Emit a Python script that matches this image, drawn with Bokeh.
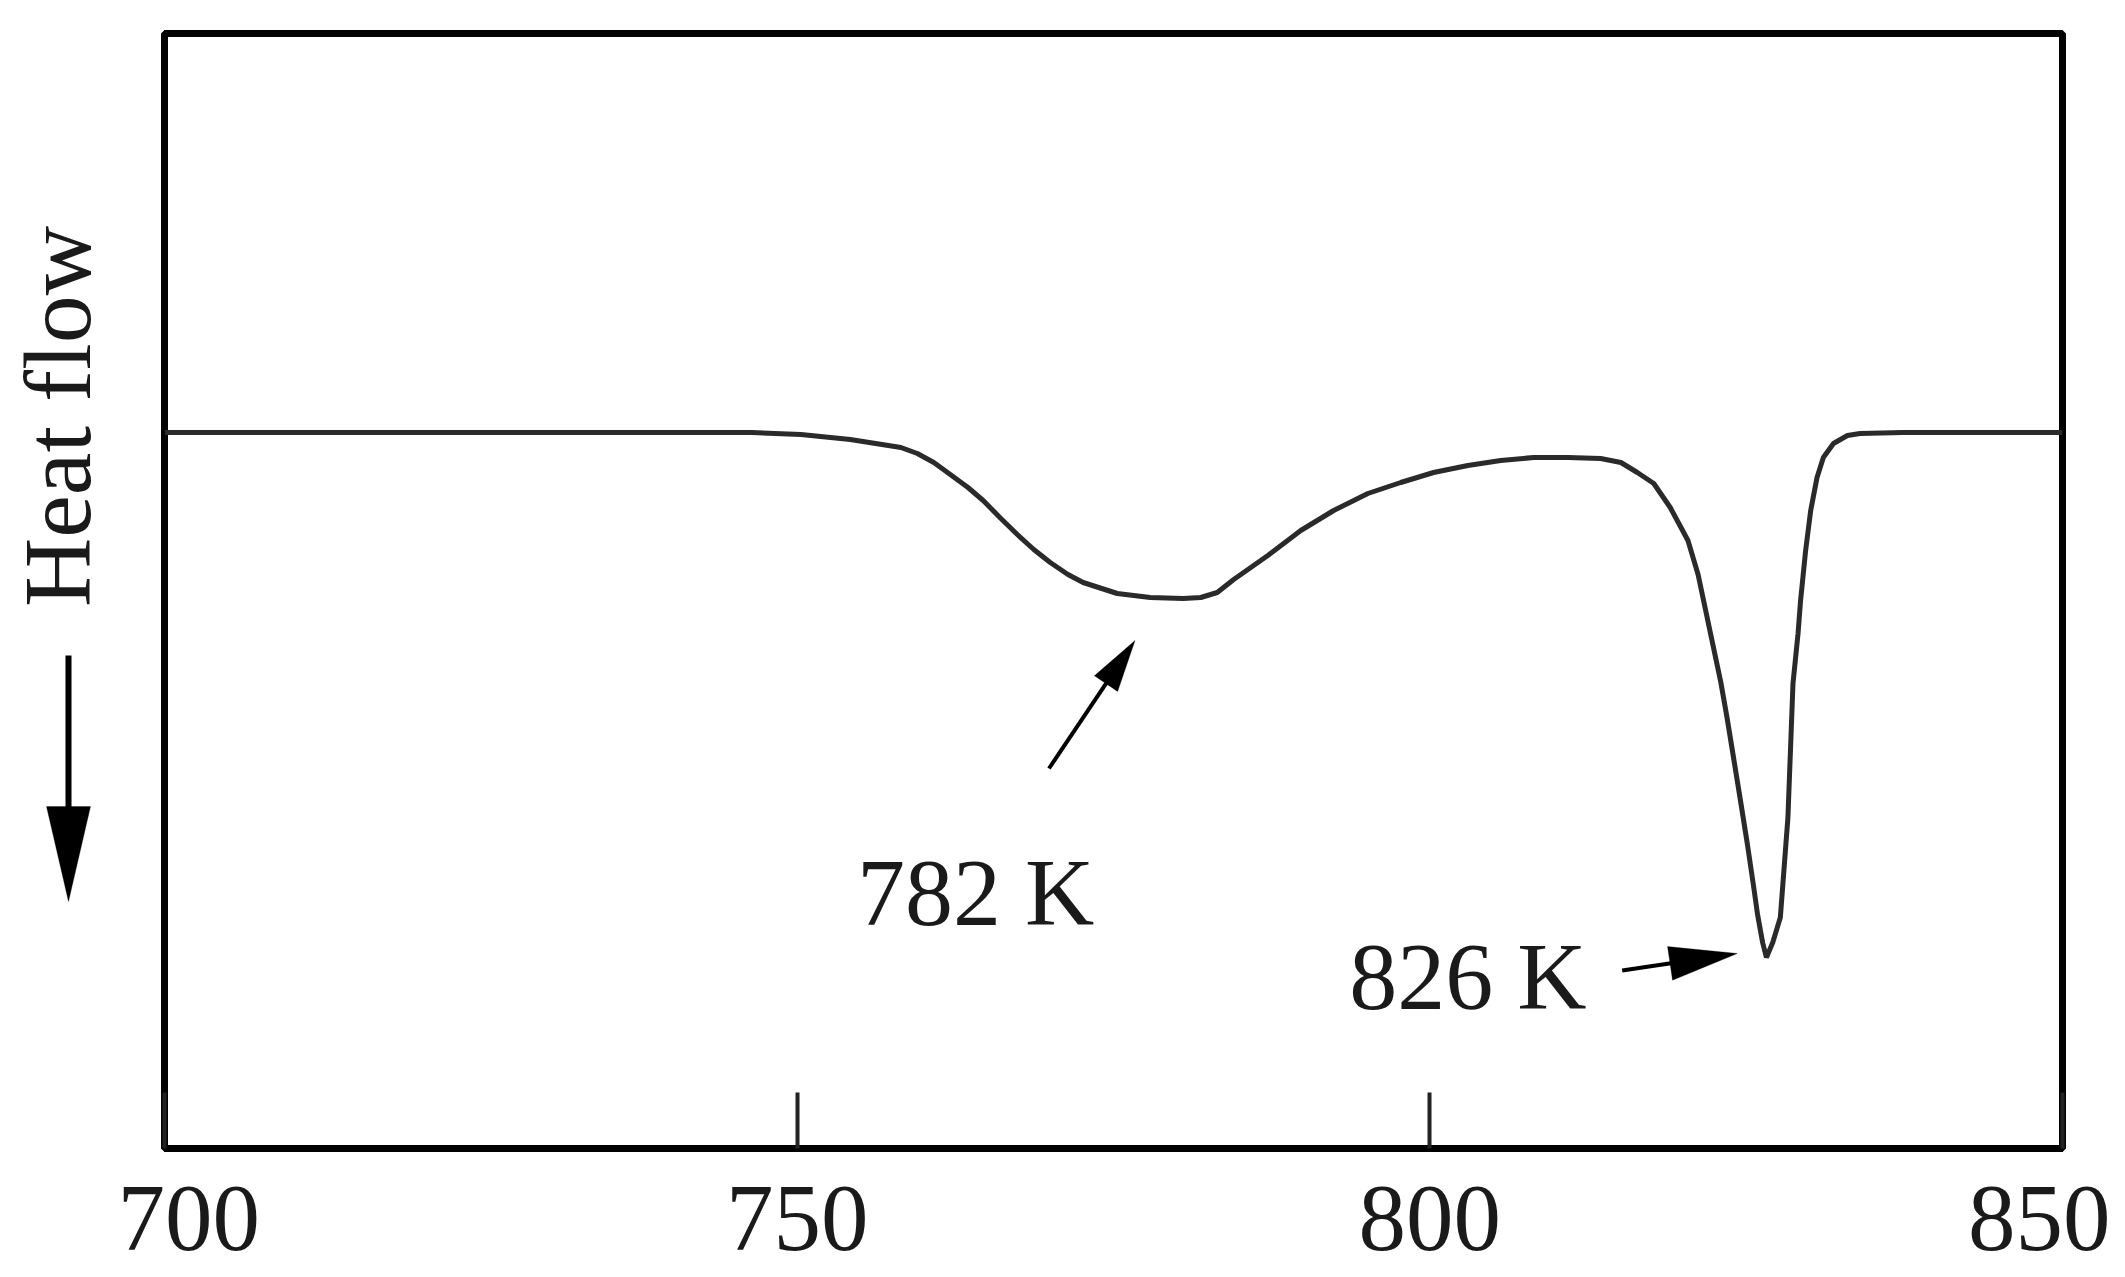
from bokeh.plotting import figure
from bokeh.layouts import row
from bokeh.models import Range1d, FixedTicker, Label, Arrow, PolyAnnotation
from bokeh.embed import file_html
from bokeh.resources import INLINE
import math

# ---- data ----
temperature = [700, 746.4, 750.3, 754.2, 758.2, 759.5, 760.8, 762.1, 763.5, 764.7,
               766.1, 767.4, 768.7, 770.0, 771.4, 772.6, 775.3, 777.9, 780.5, 781.9,
               783.2, 784.5, 787.2, 789.8, 792.4, 795.1, 797.7, 800.3, 803.0, 805.6,
               808.2, 810.9, 813.5, 815.1, 816.4, 817.7, 819.0, 820.4, 821.2, 821.6,
               822.2, 823.0, 823.5, 824.0, 824.6, 825.1, 825.6, 825.9, 826.3, 826.6,
               827.1, 827.7, 828.3, 828.5, 828.7, 829.1, 829.3, 829.7, 830.1, 830.6,
               831.1, 831.9, 833.0, 834.0, 837.4, 850]
heat_flow = [0, 0, -0.02, -0.07, -0.15, -0.21, -0.30, -0.42, -0.55, -0.68,
             -0.86, -1.02, -1.17, -1.30, -1.42, -1.50, -1.61, -1.65, -1.66, -1.65,
             -1.60, -1.47, -1.23, -0.98, -0.78, -0.61, -0.50, -0.40, -0.33, -0.28,
             -0.25, -0.25, -0.26, -0.30, -0.40, -0.51, -0.75, -1.08, -1.42, -1.66,
             -2.02, -2.50, -2.86, -3.25, -3.72, -4.12, -4.55, -4.82, -5.10, -5.25,
             -5.10, -4.85, -3.85, -3.18, -2.51, -2.01, -1.68, -1.18, -0.78, -0.45,
             -0.25, -0.11, -0.03, -0.01, 0, 0]
x_ticks = [700, 750, 800, 850]
peak_labels = ["782 K", "826 K"]
y_label = "Heat flow"

FONT = "Liberation Serif"
INK = "#1a1a1a"
TOTAL_W, TOTAL_H = 2110, 1277
SIDE_W = 117
FRAME_L, FRAME_R, FRAME_T, FRAME_B = 164, 2062, 33, 1148
X0, X1, Y0, Y1 = 700, 850, -7.16, 3.99


def head_poly(x0, y0, x1, y1, length, width, sx, sy):
    """Triangle arrow head (in data units) with given pixel length/width."""
    dx, dy = (x1 - x0) * sx, (y1 - y0) * sy
    d = math.hypot(dx, dy)
    ux, uy = dx / d, dy / d
    tx, ty = x1 * sx, y1 * sy
    bx, by = tx - ux * length, ty - uy * length
    nx, ny = -uy * width / 2, ux * width / 2
    xs = [tx / sx, (bx + nx) / sx, (bx - nx) / sx]
    ys = [ty / sy, (by + ny) / sy, (by - ny) / sy]
    base = (bx / sx + ux * 6 / sx, by / sy + uy * 6 / sy)
    return xs, ys, base


def add_arrow(fig, x0, y0, x1, y1, length, width, sx, sy, lw):
    xs, ys, base = head_poly(x0, y0, x1, y1, length, width, sx, sy)
    fig.add_layout(Arrow(x_start=x0, y_start=y0, x_end=base[0], y_end=base[1],
                         end=None, line_width=lw, line_color="black"))
    fig.add_layout(PolyAnnotation(xs=xs, ys=ys, fill_color="black", fill_alpha=1.0,
                                  line_color="black", line_width=1))


# ---- left strip: rotated y label and the downward arrow ----
side = figure(width=SIDE_W, height=TOTAL_H, output_backend="svg", toolbar_location=None,
              x_range=Range1d(0, SIDE_W), y_range=Range1d(FRAME_B, FRAME_T),
              x_axis_location=None, y_axis_location=None,
              min_border_left=0, min_border_right=0,
              min_border_top=FRAME_T, min_border_bottom=TOTAL_H - FRAME_B)
side.xgrid.visible = False
side.ygrid.visible = False
side.outline_line_color = None
side.add_layout(Label(x=57, y=416, text=y_label, angle=math.pi / 2,
                      text_font=FONT, text_font_size="96px", text_color=INK,
                      text_align="center", text_baseline="middle"))
add_arrow(side, 68, 655, 68, 901, 95, 44, 1.0, -1.0, 6)

# ---- main plot ----
main_w = TOTAL_W - SIDE_W
p = figure(width=main_w, height=TOTAL_H, output_backend="svg", toolbar_location=None,
           x_range=Range1d(X0, X1), y_range=Range1d(Y0, Y1),
           y_axis_location=None,
           min_border_left=FRAME_L - SIDE_W, min_border_right=TOTAL_W - FRAME_R,
           min_border_top=FRAME_T, min_border_bottom=TOTAL_H - FRAME_B)
p.xgrid.visible = False
p.ygrid.visible = False
p.background_fill_color = "white"
p.border_fill_color = "white"
p.outline_line_color = "black"
p.outline_line_width = 7
p.outline_line_alpha = 1.0

ax = p.xaxis[0]
ax.ticker = FixedTicker(ticks=x_ticks)
ax.major_tick_in = 56
ax.major_tick_out = 0
ax.major_tick_line_width = 4
ax.major_tick_line_color = "#222222"
ax.minor_tick_line_color = None
ax.axis_line_color = "black"
ax.axis_line_width = 7
ax.major_label_text_font = FONT
ax.major_label_text_font_size = "95px"
ax.major_label_text_color = INK
ax.major_label_standoff = 38

p.line(temperature, heat_flow, line_color="#2a2a2a", line_width=5)

SX = (FRAME_R - FRAME_L) / (X1 - X0)
SY = (FRAME_B - FRAME_T) / (Y1 - Y0)

# peak annotations
p.add_layout(Label(x=764.1, y=-4.60, text=peak_labels[0],
                   text_font=FONT, text_font_size="96px", text_color=INK,
                   text_align="center", text_baseline="middle"))
add_arrow(p, 769.9, -3.36, 776.7, -2.08, 52, 28, SX, SY, 4)
p.add_layout(Label(x=803.0, y=-5.44, text=peak_labels[1],
                   text_font=FONT, text_font_size="96px", text_color=INK,
                   text_align="center", text_baseline="middle"))
add_arrow(p, 815.2, -5.38, 824.3, -5.21, 68, 34, SX, SY, 4)

layout = row(side, p, spacing=0)
open("out.html", "w").write(file_html(layout, INLINE))
